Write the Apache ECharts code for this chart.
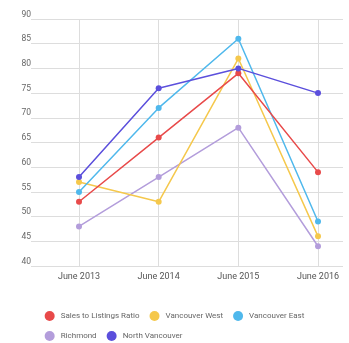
<!DOCTYPE html>
<html>
<head>
<meta charset="utf-8">
<script src="https://cdn.jsdelivr.net/npm/echarts@6/dist/echarts.min.js"></script>
<style>
html, body { margin: 0; padding: 0; background: #fff; }
#chart { width: 349px; height: 343px; }
</style>
</head>
<body>
<div id="chart"></div>
<script>
var categories = ['June 2013', 'June 2014', 'June 2015', 'June 2016'];
var salesRatio = [53, 66, 79, 59];
var vanWest = [57, 53, 82, 46];
var vanEast = [55, 72, 86, 49];
var richmond = [48, 58, 68, 44];
var northVan = [58, 76, 80, 75];
var yTicks = [40, 45, 50, 55, 60, 65, 70, 75, 80, 85, 90];

var myChart = echarts.init(document.getElementById('chart'));

function line(name, data, color) {
    return {
        name: name,
        type: 'line',
        xAxisIndex: 1,
        yAxisIndex: 1,
        data: data,
        symbol: 'circle',
        symbolSize: 6,
        lineStyle: { width: 1.5, color: color },
        itemStyle: { color: color },
        animation: false
    };
}

var option = {
    backgroundColor: '#fff',
    textStyle: { fontFamily: 'Roboto' },
    // grid 0 只用于横向网格线和y轴标签，grid 1 放折线
    grid: [
        { left: 31, right: 6, top: 19, bottom: 77 },
        { left: 79, right: 31, top: 19, bottom: 77 }
    ],
    legend: {
        left: 'center',
        top: 306,
        width: 300,
        icon: 'circle',
        itemWidth: 10,
        itemHeight: 10,
        itemGap: 10,
        textStyle: { fontSize: 8, color: '#666', padding: [0, 0, 0, 1] },
        data: ['Sales to Listings Ratio', 'Vancouver West', 'Vancouver East', 'Richmond', 'North Vancouver']
    },
    xAxis: [
        { gridIndex: 0, type: 'value', min: 0, max: 1, show: false },
        {
            gridIndex: 1,
            type: 'category',
            data: categories,
            boundaryGap: false,
            axisLine: { show: false },
            axisTick: { show: false },
            axisLabel: { fontSize: 9, color: '#555', margin: 6 },
            splitLine: { show: true, lineStyle: { color: '#ddd', width: 1 } }
        }
    ],
    yAxis: [
        {
            gridIndex: 0,
            type: 'value',
            min: yTicks[0],
            max: yTicks[yTicks.length - 1],
            interval: 5,
            axisLine: { show: false },
            axisTick: { show: false },
            axisLabel: { fontSize: 8.5, color: '#666', margin: 0, verticalAlign: 'bottom' },
            splitLine: { lineStyle: { color: '#ddd', width: 1 } }
        },
        {
            gridIndex: 1,
            type: 'value',
            min: yTicks[0],
            max: yTicks[yTicks.length - 1],
            interval: 5,
            show: false
        }
    ],
    series: [
        line('Richmond', richmond, '#b39ddb'),
        line('Vancouver West', vanWest, '#f5c84c'),
        line('Vancouver East', vanEast, '#4fb8ec'),
        line('Sales to Listings Ratio', salesRatio, '#e84a4a'),
        line('North Vancouver', northVan, '#5b4fdc')
    ]
};

myChart.setOption(option);
</script>
</body>
</html>
